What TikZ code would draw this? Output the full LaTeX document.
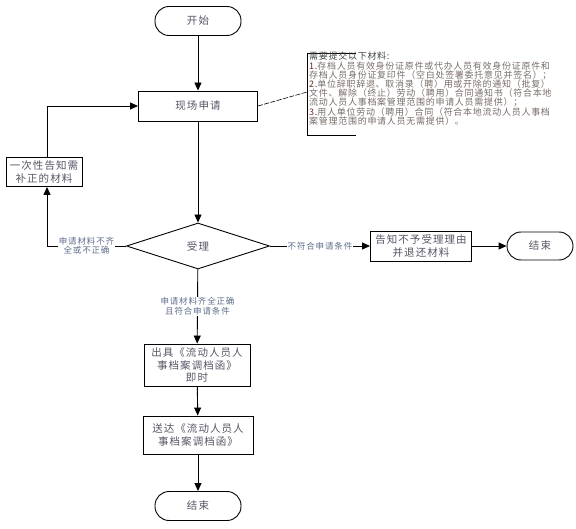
\documentclass[tikz,border=0pt]{standalone}
\usepackage{fontspec}
\setmainfont{Noto Sans CJK SC}[LetterSpace=10]
\newfontfamily\notefont{Noto Sans CJK SC}[LetterSpace=8]
\usetikzlibrary{shapes,positioning,arrows.meta}
\tikzset{>={Triangle[length=8pt,width=7pt]}}
\colorlet{penColor}{black}
\definecolor{textColor}{RGB}{85,85,100}
\definecolor{condColor}{RGB}{95,110,140}
\definecolor{noteColor}{RGB}{120,108,104}
\definecolor{numColor}{RGB}{105,40,40}
\tikzset{
  box/.style={draw=penColor,line width=.9pt,align=center,inner sep=0pt,
    text=textColor,font=\fontsize{10.5}{12.5}\selectfont},
  terminal/.style={box,rounded corners=14pt,minimum width=86pt,minimum height=29pt},
  decision/.style={box,diamond,minimum width=143pt,minimum height=46pt},
  cond/.style={fill=white,inner sep=1pt,align=center,text=condColor,
    font=\fontsize{8.5}{9.5}\selectfont},
  flow/.style={penColor,line width=.9pt,->},
}
\newcommand{\num}[1]{\textcolor{numColor}{#1}}

\begin{document}
\begin{tikzpicture}[x=1pt,y=-1pt]
  \useasboundingbox (0,0) rectangle (576,529);

  \node [terminal] (start) at (198,21) {开始};
  \node [box,minimum width=119pt,minimum height=30pt] (apply) at (198,106) {现场申请};
  \node [box,minimum width=76pt,minimum height=29pt] (notify) at (44,172) {一次性告知需\\补正的材料};
  \node [decision] (accept) at (198,246) {受理};
  \node [box,minimum width=101pt,minimum height=30pt] (refuse) at (421,246) {告知不予受理理由\\并退还材料};
  \node [terminal,minimum width=66pt,minimum height=28pt] (endR) at (540,246) {结束};
  \node [box,minimum width=106pt,minimum height=42pt] (issue) at (197,365) {出具《流动人员人\\事档案调档函》\\即时};
  \node [box,minimum width=110pt,minimum height=38pt] (deliver) at (198,435) {送达《流动人员人\\事档案调档函》};
  \node [terminal] (endB) at (198,506) {结束};

  \draw [flow] (start) -- (apply);
  \draw [flow] (apply) -- (accept);
  \draw [flow] (accept.west) -| node [cond,pos=.25] {申请材料不齐\\全或不正确} ([xshift=3pt]notify.south);
  \draw [flow] ([xshift=3pt]notify.north) |- (apply.west);
  \draw [flow] (accept) -- node [cond] {不符合申请条件} (refuse);
  \draw [flow] (refuse) -- (endR);
  \draw [flow] (accept) -- node [cond] {申请材料齐全正确\\且符合申请条件} (issue);
  \draw [flow] (issue) -- (deliver);
  \draw [flow] (deliver) -- (endB);

  % note on the materials
  \draw [penColor,line width=.8pt] (356,53) -- (307,53) -- (307,135) -- (356,135);
  \coordinate (noteTip) at (307,92);
  \draw [penColor,line width=.6pt,dash pattern=on 5pt off 1.5pt] (apply.east) -- (noteTip);
  \node [anchor=north west,inner sep=0pt,align=left,text=noteColor,
    font=\notefont\fontsize{9}{9.2}\selectfont] (note) at (309,52)
    {\textcolor{black!75}{需要提交以下材料:}\\
     \num{1.}存档人员有效身份证原件或代办人员有效身份证原件和\\
     存档人员身份证复印件（空白处签署委托意见并签名）；\\
     \num{2.}单位辞职辞退、取消录（聘）用或开除的通知（批复）\\
     文件、解除（终止）劳动（聘用）合同通知书（符合本地\\
     流动人员人事档案管理范围的申请人员需提供）；\\
     \num{3.}用人单位劳动（聘用）合同（符合本地流动人员人事档\\
     案管理范围的申请人员无需提供）。};
\end{tikzpicture}
\end{document}
